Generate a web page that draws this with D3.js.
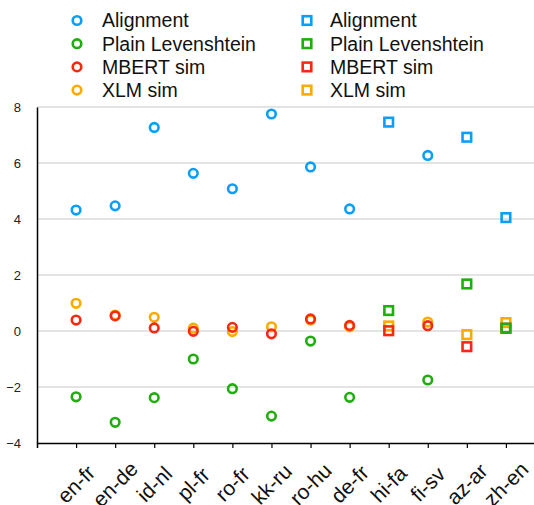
<!DOCTYPE html>
<html>
<head>
<meta charset="utf-8">
<script src="https://cdn.jsdelivr.net/npm/d3@7"></script>
<style>
  body { margin: 0; background: #fff; }
  svg { font-family: "Liberation Sans", Arial, Helvetica, sans-serif; }
</style>
</head>
<body>
<svg class="chart" width="534" height="505"></svg>
<script>
const pairs = ['en-fr', 'en-de', 'id-nl', 'pl-fr', 'ro-fr', 'kk-ru', 'ro-hu', 'de-fr', 'hi-fa', 'fi-sv', 'az-ar', 'zh-en']
// marker shape per language pair
const shapes = ['circle', 'circle', 'circle', 'circle', 'circle', 'circle', 'circle', 'circle', 'square', 'circle', 'square', 'square']

const alignment = [4.32, 4.47, 7.27, 5.63, 5.08, 7.75, 5.86, 4.36, 7.46, 6.27, 6.92, 4.05]
const plainLev = [-2.35, -3.26, -2.38, -1.0, -2.06, -3.04, -0.36, -2.37, 0.73, -1.75, 1.68, 0.10]
const mbertSim = [0.39, 0.54, 0.11, -0.01, 0.13, -0.10, 0.43, 0.20, 0.01, 0.19, -0.56, 0.10]
const xlmSim = [0.99, 0.57, 0.49, 0.10, -0.02, 0.15, 0.39, 0.15, 0.18, 0.32, -0.13, 0.30]

const yTicks = [-4, -2, 0, 2, 4, 6, 8]

// drawn bottom to top
const series = [
  { name: 'XLM sim', values: xlmSim, color: '#fdaa00' },
  { name: 'MBERT sim', values: mbertSim, color: '#f52a12' },
  { name: 'Plain Levenshtein', values: plainLev, color: '#21ad10' },
  { name: 'Alignment', values: alignment, color: '#0a9ff7' }
]

const svg = d3.select('.chart')

const x = d3.scalePoint()
  .domain(pairs)
  .range([37, 545])
  .padding(1)

const y = d3.scaleLinear()
  .domain([-4, 8])
  .range([443, 107])

// gridlines
svg.append('g')
  .selectAll('line')
  .data(yTicks.filter(d => d > -4))
  .join('line')
  .attr('x1', 37)
  .attr('x2', 534)
  .attr('y1', d => y(d))
  .attr('y2', d => y(d))
  .attr('stroke', '#c9c9c9')
  .attr('stroke-width', 1.2)

// y axis
const gy = svg.append('g')
  .attr('transform', 'translate(37,0)')
  .call(d3.axisLeft(y).tickValues(yTicks).tickSize(0).tickPadding(16).tickFormat(d3.format('d')))
gy.select('.domain').attr('stroke', '#000').attr('stroke-width', 1.5)
gy.selectAll('text').style('font-size', '13px').attr('fill', '#222')

// x axis
const gx = svg.append('g')
  .attr('transform', 'translate(0,443)')
  .call(d3.axisBottom(x).tickSize(5).tickSizeOuter(5).tickFormat(''))
gx.select('.domain').attr('stroke', '#000').attr('stroke-width', 1.5)
gx.selectAll('.tick line').attr('stroke', '#000').attr('stroke-width', 1.2)

svg.append('g')
  .selectAll('text')
  .data(pairs)
  .join('text')
  .attr('transform', d => 'translate(' + x(d) + ',484) rotate(-45)')
  .attr('text-anchor', 'middle')
  .attr('dy', '0.35em')
  .style('font-size', '21px')
  .attr('fill', '#111')
  .text(d => d)

// markers
const r = 4.3
const side = 8.6
for (let s of series) {
  const g = svg.append('g')
    .attr('fill', 'none')
    .attr('stroke', s.color)
    .attr('stroke-width', 2.6)
  const pts = pairs.map((p, i) => ({ p, v: s.values[i], shape: shapes[i] }))
  g.selectAll('circle')
    .data(pts.filter(d => d.shape === 'circle'))
    .join('circle')
    .attr('cx', d => x(d.p))
    .attr('cy', d => y(d.v))
    .attr('r', r)
  g.selectAll('rect')
    .data(pts.filter(d => d.shape === 'square'))
    .join('rect')
    .attr('x', d => x(d.p) - side / 2)
    .attr('y', d => y(d.v) - side / 2)
    .attr('width', side)
    .attr('height', side)
}

// legend
const legendItems = series.slice().reverse()
const legend = svg.append('g')
legendItems.forEach((s, i) => {
  const ly = 20.5 + i * 23.2
  legend.append('circle')
    .attr('cx', 77).attr('cy', ly).attr('r', r)
    .attr('fill', 'none').attr('stroke', s.color).attr('stroke-width', 2.6)
  legend.append('text')
    .attr('x', 102).attr('y', ly).attr('dy', '0.35em')
    .style('font-size', '19.5px').attr('fill', '#111')
    .text(s.name)
  legend.append('rect')
    .attr('x', 307 - side / 2).attr('y', ly - side / 2)
    .attr('width', side).attr('height', side)
    .attr('fill', 'none').attr('stroke', s.color).attr('stroke-width', 2.6)
  legend.append('text')
    .attr('x', 330).attr('y', ly).attr('dy', '0.35em')
    .style('font-size', '19.5px').attr('fill', '#111')
    .text(s.name)
})
</script>
</body>
</html>
